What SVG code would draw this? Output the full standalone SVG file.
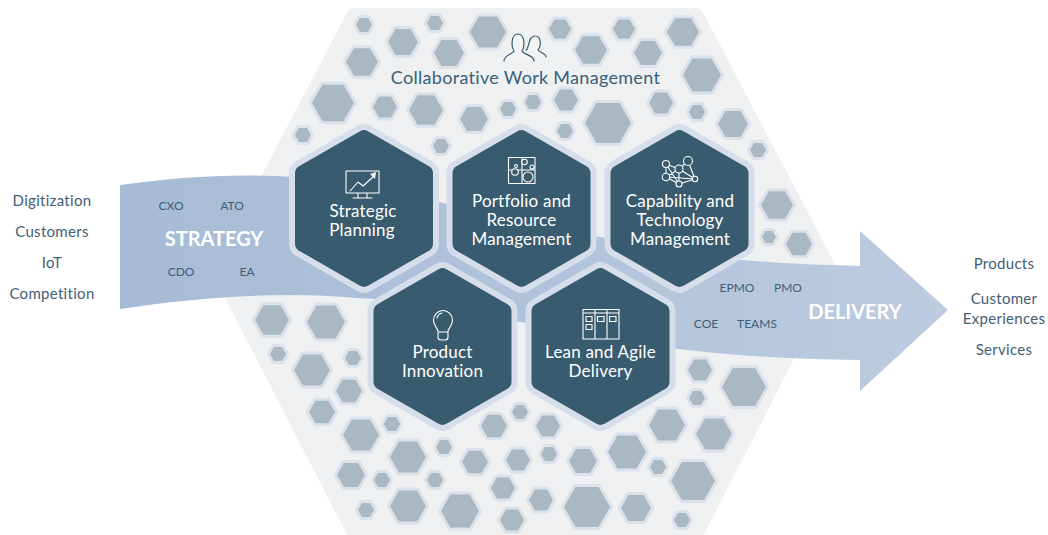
<svg xmlns="http://www.w3.org/2000/svg" xmlns:xlink="http://www.w3.org/1999/xlink" width="1048" height="535" viewBox="0 0 1048 535">
<style>
text{font-family:Lato,"Open Sans","Liberation Sans",sans-serif;text-anchor:middle}
.c{fill:#a9b8c1;stroke:#dbe2eb;stroke-width:6;stroke-linejoin:round;paint-order:stroke}
.rim{fill:#d5deea;stroke:#d5deea;stroke-width:28;stroke-linejoin:round}
.core{fill:#395b70;stroke:#395b70;stroke-width:16;stroke-linejoin:round}
.lbl{font-size:17px;fill:#fff;letter-spacing:.2px}
.side{font-size:15px;fill:#3f6075;letter-spacing:.3px}
.role{font-size:12px;fill:#3f5f75}
.big{font-size:20px;fill:#fff;font-weight:700}
.ic{fill:none;stroke:#fff;stroke-width:1.1;stroke-linejoin:round;stroke-linecap:round}
</style>
<defs>
<polygon id="u" vector-effect="non-scaling-stroke" points="-1,0 -.5,-.866 .5,-.866 1,0 .5,.866 -.5,.866"/>
<polygon id="m" points="0,-70.4 61,-35.2 61,35.2 0,70.4 -61,35.2 -61,-35.2"/>
<linearGradient id="g" gradientUnits="userSpaceOnUse" x1="120" y1="0" x2="948" y2="0"><stop offset="0" stop-color="#a6bbd5"/><stop offset="1" stop-color="#bccbe0"/></linearGradient>
</defs>
<polygon id="field" points="353,14 697,14 832,271.500 697,535 354,535 218,271.500" fill="#eef0f2" stroke="#eef0f2" stroke-width="12" stroke-linejoin="round"/>
<g id="cells" class="c">
<use href="#u" transform="translate(364 25) scale(8)"/><use href="#u" transform="translate(403 42) scale(15)"/><use href="#u" transform="translate(435 23) scale(8)"/><use href="#u" transform="translate(449 53) scale(15)"/><use href="#u" transform="translate(488 32) scale(18)"/><use href="#u" transform="translate(560 29) scale(11)"/><use href="#u" transform="translate(591 50) scale(16)"/><use href="#u" transform="translate(624 29) scale(11)"/><use href="#u" transform="translate(648 53) scale(14)"/><use href="#u" transform="translate(683 32) scale(16)"/><use href="#u" transform="translate(702 75) scale(19)"/><use href="#u" transform="translate(362 62) scale(16)"/><use href="#u" transform="translate(333 103) scale(21)"/><use href="#u" transform="translate(385 107) scale(12)"/><use href="#u" transform="translate(426 110) scale(17)"/><use href="#u" transform="translate(474 119) scale(14)"/><use href="#u" transform="translate(508 109) scale(8)"/><use href="#u" transform="translate(533 102) scale(8)"/><use href="#u" transform="translate(566 100) scale(12)"/><use href="#u" transform="translate(608 123) scale(23)"/><use href="#u" transform="translate(661 103) scale(12)"/><use href="#u" transform="translate(697 112) scale(8)"/><use href="#u" transform="translate(733 124) scale(15)"/><use href="#u" transform="translate(758 150) scale(8)"/><use href="#u" transform="translate(303 135) scale(8)"/><use href="#u" transform="translate(441 146) scale(8)"/><use href="#u" transform="translate(565 131) scale(8)"/><use href="#u" transform="translate(777 205) scale(16)"/><use href="#u" transform="translate(769 237) scale(7)"/><use href="#u" transform="translate(799 244) scale(13)"/>
<use href="#u" transform="translate(272 320) scale(17)"/><use href="#u" transform="translate(326 322) scale(19)"/><use href="#u" transform="translate(278 354) scale(8)"/><use href="#u" transform="translate(312 370) scale(18)"/><use href="#u" transform="translate(353 358) scale(8)"/><use href="#u" transform="translate(349 391) scale(13)"/><use href="#u" transform="translate(322 412) scale(13)"/><use href="#u" transform="translate(361 435) scale(18)"/><use href="#u" transform="translate(392 424) scale(8)"/><use href="#u" transform="translate(408 457) scale(18)"/><use href="#u" transform="translate(444 447) scale(8)"/><use href="#u" transform="translate(475 462) scale(13)"/><use href="#u" transform="translate(494 426) scale(13)"/><use href="#u" transform="translate(351 475) scale(14)"/><use href="#u" transform="translate(382 480) scale(8)"/><use href="#u" transform="translate(435 480) scale(8)"/><use href="#u" transform="translate(408 506) scale(18)"/><use href="#u" transform="translate(366 510) scale(8)"/><use href="#u" transform="translate(460 511) scale(19)"/>
<use href="#u" transform="translate(700 370) scale(12)"/><use href="#u" transform="translate(744 387) scale(22)"/><use href="#u" transform="translate(697 398) scale(8)"/><use href="#u" transform="translate(520 412) scale(8)"/><use href="#u" transform="translate(548 426) scale(12)"/><use href="#u" transform="translate(667 425) scale(18)"/><use href="#u" transform="translate(714 434) scale(18)"/><use href="#u" transform="translate(627 452) scale(19)"/><use href="#u" transform="translate(583 461) scale(14)"/><use href="#u" transform="translate(549 454) scale(8)"/><use href="#u" transform="translate(518 460) scale(12)"/><use href="#u" transform="translate(658 467) scale(8)"/><use href="#u" transform="translate(693 481) scale(22)"/><use href="#u" transform="translate(503 488) scale(12)"/><use href="#u" transform="translate(541 500) scale(12)"/><use href="#u" transform="translate(587 507) scale(23)"/><use href="#u" transform="translate(636 508) scale(15)"/><use href="#u" transform="translate(512 520) scale(12)"/><use href="#u" transform="translate(682 520) scale(8)"/>
</g>
<g id="connectors">
<path id="ribbon" fill="url(#g)" d="M120,185 C190,175 270,171 335,182 C430,197 520,222 600,237 C680,252 720,263 860,266 L860,231 L948,310 L860,391 L860,360 C760,359 700,352 640,344 C590,337 560,328 520,322 C460,312 410,300 357,298 C290,292 210,295 120,309 Z"/>
</g>
<g id="strategy-labels">
<text class="big" x="214" y="246">STRATEGY</text>
<text class="role" x="171" y="210">CXO</text><text class="role" x="232" y="210">ATO</text><text class="role" x="181" y="276">CDO</text><text class="role" x="247" y="276">EA</text>
</g>
<g id="delivery-labels">
<text class="big" x="855" y="319">DELIVERY</text>
<text class="role" x="737" y="292">EPMO</text><text class="role" x="788" y="292">PMO</text><text class="role" x="706" y="328">COE</text><text class="role" x="757" y="328">TEAMS</text>
</g>
<g id="strategic-planning">
<use href="#m" class="rim" x="364" y="208.500"/><use href="#m" class="core" x="364" y="208.500"/>
<path class="ic" d="M346,171H379V193H346Z M358,193V198 M367,193V198 M353,198H372 M350,191L358,182L363,186L374,176"/><path d="M370,174L376,172L375,179Z" fill="#fff"/>
<text class="lbl" x="363" y="217">Strategic</text><text class="lbl" x="362" y="236">Planning</text>
</g>
<g id="portfolio-resource-management">
<use href="#m" class="rim" x="521.500" y="208.500"/><use href="#m" class="core" x="521.500" y="208.500"/>
<path class="ic" d="M508.500,157.500H535V183.500H508.500Z M522,157.500V183.500 M508.500,170H535"/>
<g class="ic" style="fill:#395b70"><circle cx="515" cy="172" r="3.300"/><circle cx="516" cy="166" r="1.500"/><circle cx="524.500" cy="162" r="2.700"/><circle cx="532" cy="167" r="2"/><circle cx="528" cy="177" r="5"/></g>
<text class="lbl" x="521.500" y="206.500">Portfolio and</text><text class="lbl" x="521.500" y="225.500">Resource</text><text class="lbl" x="521.500" y="244.500">Management</text>
</g>
<g id="capability-technology-management">
<use href="#m" class="rim" x="679.500" y="208.500"/><use href="#m" class="core" x="679.500" y="208.500"/>
<path class="ic" stroke-width=".9" d="M666,164L679,169L688,161 M666,164L666,177 M666,164L679,184 M666,177L679,169L679,184L666,177L695,179L679,169 M679,184L695,179L688,161"/>
<g class="ic" style="fill:#395b70"><circle cx="666" cy="164" r="3.500"/><circle cx="688" cy="161" r="4.500"/><circle cx="679" cy="169" r="4"/><circle cx="666" cy="177" r="3.700"/><circle cx="679" cy="184" r="3"/><circle cx="695" cy="179" r="2.700"/></g>
<text class="lbl" x="680" y="206.500">Capability and</text><text class="lbl" x="680" y="225.500">Technology</text><text class="lbl" x="680" y="244.500">Management</text>
</g>
<g id="product-innovation">
<use href="#m" class="rim" x="442.500" y="346.500"/><use href="#m" class="core" x="442.500" y="346.500"/>
<path class="ic" d="M438,331C436,326 433.500,325 433.500,320A9.500,9.500 0 0 1 452.500,320C452.500,325 450,326 448,331V337Q448,340 445,340H441Q438,340 438,337Z M438,332H448 M437,318Q438,314 442,313"/>
<text class="lbl" x="442.500" y="358">Product</text><text class="lbl" x="442.500" y="377">Innovation</text>
</g>
<g id="lean-agile-delivery">
<use href="#m" class="rim" x="600.500" y="346.500"/><use href="#m" class="core" x="600.500" y="346.500"/>
<path class="ic" d="M583,309.500H619V339H583Z M583,313H619 M595,309.500V339 M607,309.500V339 M586,316.500H592V321.500H586Z M586,324.500H592V329.500H586Z M597.500,316.500H604V321.500H597.500Z M609.500,316.500H616V321.500H609.500Z"/>
<text class="lbl" x="600.500" y="358">Lean and Agile</text><text class="lbl" x="600.500" y="377">Delivery</text>
</g>
<g id="collaborative-work-management">
<path d="M504,61C504,55 513,54 514,51C511,47 511,34 518,34C525,34 525,47 522,51C524,55 534,55 534,61M526,50C530,47 528,36 535,36C542,36 541,47 538,50C540,53 546,53 546,57" fill="#f3f4f6" stroke="#395b70" stroke-width="1.200" stroke-linejoin="round" stroke-linecap="round"/>
<text x="525.500" y="84" font-size="18" letter-spacing=".3" fill="#3a5f78">Collaborative Work Management</text>
</g>
<g id="inputs">
<text class="side" x="52" y="206">Digitization</text><text class="side" x="52" y="237">Customers</text><text class="side" x="52" y="268">IoT</text><text class="side" x="52" y="299">Competition</text>
</g>
<g id="outputs">
<text class="side" x="1004" y="269">Products</text><text class="side" x="1004" y="304">Customer</text><text class="side" x="1004" y="324">Experiences</text><text class="side" x="1004" y="355">Services</text>
</g>
</svg>
